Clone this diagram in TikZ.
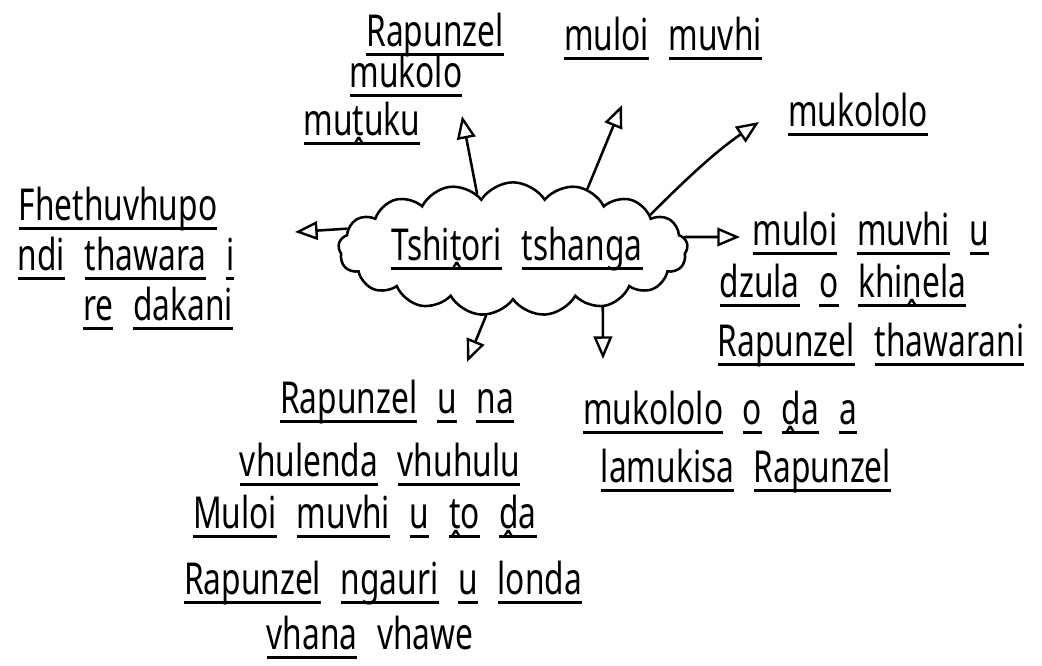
\documentclass[tikz,border=0pt]{standalone}
\usepackage{fontspec}
\newfontfamily\handfont[FakeStretch=0.72]{Noto Sans}
\usetikzlibrary{shapes.symbols,arrows.meta}
\newcommand\ul[1]{\setbox0\hbox{#1}\rlap{\rule[-0.22em]{\wd0}{0.065em}}\box0\relax}
\newcommand\handsetup{\handfont\fontsize{33}{40}\selectfont\spaceskip 0.45em\relax}
\tikzset{
  hand/.style={font=\handsetup, inner sep=0pt, anchor=base},
  conn/.style={line width=1.9pt, line cap=round, line join=round,
    -{Triangle[open, length=17pt, width=14pt, line width=1.8pt]}},
  puffy/.style={cloud, draw, line width=1.9pt, cloud puffs=17, cloud puff arc=115,
    cloud ignores aspect, minimum width=262pt, minimum height=100pt, inner sep=0pt}
}
\begin{document}
\begin{tikzpicture}[x=0.75pt,y=-0.75pt]
\useasboundingbox[fill=white] (0,0) rectangle (1042,665);
% central cloud
\node[puffy] (cloud) at (513,249) {};
\node[hand] (title) at (517,260) {\ul{Tshiṱori} \ul{tshanga}};
% top left
\node[hand] (tl1) at (435,46) {\ul{Rapunzel}};
\node[hand] (tl2) at (406,87) {\ul{mukolo}};
\node[hand] (tl3) at (362,135) {\ul{muṱuku}};
% top middle
\node[hand] (tm1) at (663,50) {\ul{muloi} \ul{muvhi}};
% top right
\node[hand] (tr1) at (858,126) {\ul{mukololo}};
% left
\node[hand] (l1) at (118,220) {\ul{Fhethuvhupo}};
\node[hand] (l2) at (126,270) {\ul{ndi} \ul{thawara} \ul{i}};
\node[hand] (l3) at (158,320) {\ul{re} \ul{dakani}};
% right
\node[hand] (r1) at (871,245) {\ul{muloi} \ul{muvhi} \ul{u}};
\node[hand] (r2) at (843,297) {\ul{dzula} \ul{o} \ul{khiṋela}};
\node[hand] (r3) at (871,356) {\ul{Rapunzel} \ul{thawarani}};
% bottom left
\node[hand] (bl1) at (397,413) {\ul{Rapunzel} \ul{u} \ul{na}};
\node[hand] (bl2) at (380,476) {\ul{vhulenda} \ul{vhuhulu}};
\node[hand] (bl3) at (365,528) {\ul{Muloi} \ul{muvhi} \ul{u} \ul{ṱo} \ul{ḓa}};
\node[hand] (bl4) at (383,594) {\ul{Rapunzel} \ul{ngauri} \ul{u} \ul{londa}};
\node[hand] (bl5) at (370,649) {\ul{vhana} vhawe};
% bottom right
\node[hand] (br1) at (720,424) {\ul{mukololo} \ul{o} \ul{ḓa} \ul{a}};
\node[hand] (br2) at (746,482) {\ul{lamukisa} \ul{Rapunzel}};
% arrow ends
\coordinate (a1) at (462,116);
\coordinate (a2) at (622,105);
\coordinate (a3) at (759,122);
\coordinate (a4) at (295,232);
\coordinate (a5) at (740,237);
\coordinate (a6) at (467,362);
\coordinate (a7) at (603,359);
\draw[conn] (cloud.123) -- (a1);
\draw[conn] (cloud.39) -- (a2);
\draw[conn] (cloud.14) .. controls (684,181) and (716,151) .. (a3);
\draw[conn] (cloud.173) -- (a4);
\draw[conn] (cloud.4) -- (a5);
\draw[conn] (cloud.248) -- (a6);
\draw[conn] (cloud.327) -- (a7);
\end{tikzpicture}
\end{document}
